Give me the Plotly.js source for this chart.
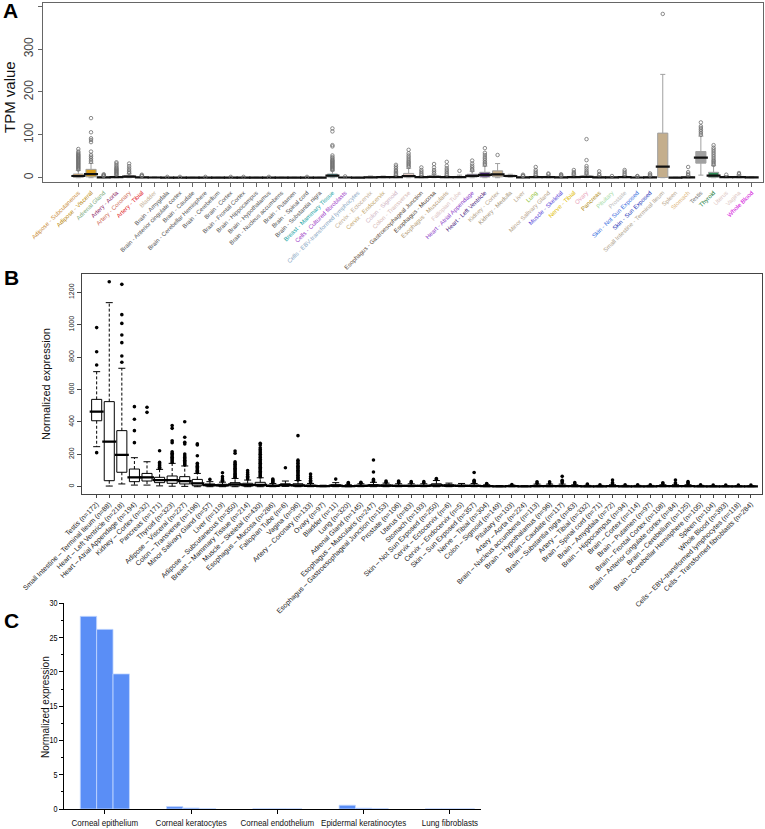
<!DOCTYPE html>
<html><head><meta charset="utf-8">
<script src="https://cdn.plot.ly/plotly-3.0.1.min.js"></script>
<style>html,body{margin:0;padding:0;background:#fff}#chart{width:765px;height:829px}</style>
</head><body><div id="chart"></div>
<script>
// ---------- Panel A : GTEx TPM ----------
const aTissues = ['Adipose - Subcutaneous','Adipose - Visceral','Adrenal Gland','Artery - Aorta','Artery - Coronary','Artery - Tibial','Bladder','Brain - Amygdala','Brain - Anterior cingulate cortex','Brain - Caudate','Brain - Cerebellar Hemisphere','Brain - Cerebellum','Brain - Cortex','Brain - Frontal Cortex','Brain - Hippocampus','Brain - Hypothalamus','Brain - Nucleus accumbens','Brain - Putamen','Brain - Spinal cord','Brain - Substantia nigra','Breast - Mammary Tissue','Cells - Cultured fibroblasts','Cells - EBV-transformed lymphocytes','Cervix - Ectocervix','Cervix - Endocervix','Colon - Sigmoid','Colon - Transverse','Esophagus - Gastroesophageal Junction','Esophagus - Mucosa','Esophagus - Muscularis','Fallopian Tube','Heart - Atrial Appendage','Heart - Left Ventricle','Kidney - Cortex','Kidney - Medulla','Liver','Lung','Minor Salivary Gland','Muscle - Skeletal','Nerve - Tibial','Ovary','Pancreas','Pituitary','Prostate','Skin - Not Sun Exposed','Skin - Sun Exposed','Small Intestine - Terminal Ileum','Spleen','Stomach','Testis','Thyroid','Uterus','Vagina','Whole Blood'];
const aLabelColors = ['#c98c3a','#b8860b','#7fae7f','#8b1c62','#cd6a55','#e0201e','#c8b49a','#555555','#555555','#555555','#555555','#555555','#555555','#555555','#555555','#555555','#555555','#555555','#555555','#555555','#1aa5a5','#a040c8','#8aa8c4','#bfae96','#c4a870','#cfb4c4','#d7b9b4','#5e4e3c','#4e4030','#b49a74','#dcc4c4','#8b40c8','#4b1f80','#b8a68e','#a89880','#b8a68e','#8cc030','#b8a68e','#5a48d8','#e0bc00','#e8a0b8','#b08a20','#a8dca8','#bcbcbc','#3a70e0','#2838b8','#b0a48e','#b8a68e','#e0b880','#777777','#1a7a3a','#dcc4c0','#dcc4c0','#d000d8'];
const aFillColors = ['#e0a050','#d9a020','#8fbc8f','#8b1c62','#ee6a50','#ff0000','#cdb79e','#bdbdbd','#bdbdbd','#bdbdbd','#bdbdbd','#bdbdbd','#bdbdbd','#bdbdbd','#bdbdbd','#bdbdbd','#bdbdbd','#bdbdbd','#bdbdbd','#bdbdbd','#2fb0b0','#b452cd','#9ac0cd','#cdb79e','#cdb79e','#d8c0c8','#e8cfc8','#8b7355','#8b7355','#cdaa7d','#eed5d2','#7b4fb0','#4a2378','#c8b08a','#cdb79e','#cdb79e','#9acd32','#cdb79e','#7a67ee','#ffd700','#ffb6c1','#cd9b1d','#b4eeb4','#d9d9d9','#3a5fcd','#1e90ff','#c4ae8c','#cdb79e','#ffd39b','#a0a0a0','#2e8b57','#eed5d2','#eed5d2','#ff00ff'];
const aQ1  = [1,2,0.3,0.5,1,0.3,0.2, 0.1,0.1,0.1,0.1,0.1,0.1,0.1,0.1,0.1,0.1,0.1,0.1,0.1, 1.5,0.2,0.1,0.5,0.5,0.5,1,0.5,1,0.5,0.5,1.5,1.5,2,2,0.3,0.5,0.5,0.3,0.5,1,0.3,0.2,0.5,0.2,0.3,0.5,0.1,0.3,34,1,0.5,0.5,0.2];
const aMed = [4,8.6,0.8,1.5,2.5,0.8,0.5, 0.3,0.3,0.3,0.3,0.3,0.3,0.3,0.3,0.3,0.3,0.3,0.3,0.3, 5,0.5,0.3,1,1.2,1.2,4,1.2,2,1.2,1.5,4.5,6.6,8,4,0.8,1.2,1.5,0.8,1.5,2,1,0.6,1.2,0.5,0.8,26,0.3,1,47,5,1.2,1.5,0.6];
const aQ3  = [8.6,19.5,1.5,3,5,1.5,1, 0.6,0.6,0.6,0.6,0.6,0.6,0.6,0.6,0.6,0.6,0.6,0.6,0.6, 8.6,1,0.6,2,2.2,2.5,10,2.5,4,2.5,3,8,12.6,16,6,1.5,2.5,3,1.5,3,4,2,1.2,2.5,1,1.5,104,0.6,2,61,12.6,2.5,3,1.2];
const aLow = [0,0,0,0,0,0,0, 0,0,0,0,0,0,0,0,0,0,0,0,0, 0,0,0,0,0,0,0,0,0,0,0,0,0,0,1,0,0,0,0,0,0,0,0,0,0,0,0,0,0,6,0,0,0,0];
const aHigh= [17,33.5,3,6,9,3,2, 1.2,1.2,1.2,1.2,1.2,1.2,1.2,1.2,1.2,1.2,1.2,1.2,1.2, 16,2,1.2,4,4,5,22,5,8,5,6,15,27,33,8,3,5,6,3,6,8,4,2.5,5,2,3,241,1.2,4,97,28,5,6,2.5];
const aOutliers = [
  [19,21,23,25,27,29,31,33,35,37,39,41,43,45,47,49,51,53,55,58,61,67],
  [37,41,45,49,53,61,83,88,92,106,139],
  [4,5,6,8],
  [7,9,11,13,15,17,19,21,23,26,29,33,36],
  [11,14,18,22,27,33],
  [4,5,7],
  [],
  [2],[2],[],[2],[],[2],[2],[],[2],[],[],[2],[],
  [18,20,22,24,26,28,30,32,34,36,38,40,42,45,48,52,73,76,108,115],
  [3],[],[],[],
  [7,9,12,15,18,22,26,30],
  [25,28,31,34,37,40,44,48,52,57,65],
  [7,10,14,18,24],
  [10,14,18,24,32],
  [7,10,14,18,22,28,37],
  [16],
  [17,20,24,28,33,40],
  [30,33,36,40,44,48,53,58,69],
  [53],
  [],
  [4,5,7],
  [7,10,14,18,25],
  [8,10],
  [4,6,8],
  [8,10,13,18],
  [10,13,17,22,27,41,90],
  [6,9,15],
  [4],
  [7,10,14,18],
  [3,4],
  [5,7,10],
  [382],
  [],
  [6,9,13,25],
  [100,104,108,112,116,120,129],
  [30,33,36,39,42,46,50,54,58,62,66,70,76],
  [7],
  [8,11],
  []
];
const aYTicks = [0,100,200,300,400];
const aYTickText = ['0','100','200','300',''];

// ---------- Panel B : normalized expression ----------
const bNames = ['Testis','Small Intestine – Terminal Ileum','Heart – Left Ventricle','Heart – Atrial Appendage','Kidney – Cortex','Pancreas','Thyroid','Adipose – Visceral','Colon – Transverse','Minor Salivary Gland','Liver','Adipose – Subcutaneous','Breast – Mammary Tissue','Muscle – Skeletal','Esophagus – Mucosa','Fallopian Tube','Vagina','Artery – Coronary','Ovary','Bladder','Lung','Adrenal Gland','Esophagus – Muscularis','Esophagus – Gastroesophageal Junction','Prostate','Uterus','Stomach','Skin – Not Sun Exposed','Cervix – Ectocervix','Cervix – Endocervix','Skin – Sun Exposed','Nerve – Tibial','Colon – Sigmoid','Pituitary','Artery – Aorta','Brain – Nucleus accumbens','Brain – Hypothalamus','Brain – Caudate','Brain – Substantia nigra','Artery – Tibial','Brain – Spinal cord','Brain – Amygdala','Brain – Hippocampus','Brain – Cortex','Brain – Putamen','Brain – Frontal Cortex','Brain – Anterior cingulate cortex','Brain – Cerebellum','Brain – Cerebellar Hemisphere','Spleen','Whole Blood','Cells – EBV–transformed lymphocytes','Cells – Transformed fibroblasts'];
const bCounts = [172,88,218,194,32,171,323,227,196,57,119,350,214,430,286,6,96,133,97,11,320,145,247,153,106,83,193,250,6,5,357,304,149,103,224,113,96,117,63,332,71,72,94,114,97,108,84,125,105,104,393,118,284];
const bQ1  = [407,37,89,31,35,25,21,17,6,5,4,5,4,4,2,5,3,2,1,2,1,2,3,3,2,2,2,3,2,2,2,1,1,1,1,1,1,1,1,1,1,1,1,1,1,1,1,1,1,0.5,0.5,0.5,0.5];
const bMed = [463,278,196,58,58,41,41,35,21,10,8,14,10,11,5,10,8,5,3,6,3,5,7,6,5,5,5,8,6,5,5,3,2,3,2,4,4,4,3,2,2,3,2,2,2,3,3,3,2,1.5,1.5,1.5,1.5];
const bQ3  = [539,525,346,109,82,58,66,62,45,17,15,25,21,27,10,18,18,10,5,12,6,9,13,11,9,9,9,18,12,10,10,6,4,5,3,8,8,8,6,4,4,6,4,4,4,6,6,6,4,3,3,3,3];
const bLow = [247,4,17,10,10,5,3,2,0,0,0,0,0,0,0,2,0,0,0,0,0,0,0,0,0,0,0,0,0,0,0,0,0,0,0,0,0,0,0,0,0,0,0,0,0,0,0,0,0,0,0,0,0];
const bHigh= [710,1136,731,179,154,107,144,128,82,31,28,51,41,55,20,35,38,20,9,25,12,18,27,22,18,18,18,38,22,20,20,12,7,10,6,16,16,16,12,8,8,12,8,8,8,12,12,12,8,6,6,6,6];
const bOutliers = [
  [210,751,833,982],[1265],[768,807,889,936,1008,1062,1249],[272,346,416,494],[459,490],
  [113,120,127,134,142,150,222],
  [150,158,166,174,182,190,198,206,216,272,284,360,377],
  [134,140,148,156,164,172,180,190,202,264,274,305,401],
  [88,95,102,110,118,126,134,144,191,257,264],
  [45],[34,40,48,62,86],
  [56,62,68,75,82,90,98,106,114,122,130,138,146,154,206,220],
  [48,56,65,75,86,99],
  [60,66,72,80,88,96,104,112,120,128,136,144,152,160,170,180,190,200,210,220,230,240,258,268],
  [25,30,36,41,47],[117],
  [42,48,55,62,70,78,86,94,102,110,118,126,134,144,154,164,315],
  [25,32,40,50,62,78],[],[47],[16,20,26],[22,27],[32,38,45,91,165],[28,35],[24,30,35],[24,31],[24,31],[44,51],[],[],
  [26,33,40,88],[16,20],[],[14],[],[22,30],[22,30],[24,32,40,64],[18,25],[12,16],[12],[18,25,41],[12],[12],[12],[18,24],[18,24,41],[18,25,31],[12],[10],[10],[10],[10]
];
const bYTicks = [0,200,400,600,800,1000,1200];

// ---------- Panel C : bar chart ----------
const cCells = ['Corneal epithelium','Corneal keratocytes','Corneal endothelium','Epidermal keratinocytes','Lung fibroblasts'];
const cRep1 = [28.1,0.35,0.03,0.55,0.02];
const cRep2 = [26.2,0.15,0.03,0.12,0.02];
const cRep3 = [19.7,0.05,0.02,0.05,0.02];
const cYTicks = [0,5,10,15,20,25,30];

// ---------- build ----------
const W = 765, H = 829;
const px = v => v / W, py = v => 1 - v / H;
const traces = [];

aTissues.forEach((t, i) => {
  traces.push({type:'box', xaxis:'x', yaxis:'y', x:[i], q1:[aQ1[i]], median:[aMed[i]], q3:[aQ3[i]],
    lowerfence:[aLow[i]], upperfence:[aHigh[i]], width:0.8, whiskerwidth:0.5,
    fillcolor:aFillColors[i], line:{color:'#a0a0a0', width:1}, hoverinfo:'skip', name:t});
});
traces.push({type:'scatter', mode:'markers', xaxis:'x', yaxis:'y', x:aTissues.map((t,i)=>i), y:aMed,
  marker:{symbol:'line-ew', size:10, line:{width:2.2, color:'#111'}}, hoverinfo:'skip'});
{
  const ox=[], oy=[];
  aOutliers.forEach((arr,i)=>arr.forEach(v=>{ox.push(i); oy.push(v);}));
  traces.push({type:'scatter', mode:'markers', xaxis:'x', yaxis:'y', x:ox, y:oy,
    marker:{symbol:'circle-open', size:3.5, color:'#6e6e6e', line:{width:0.8}}, hoverinfo:'skip'});
}

const bIdx = bNames.map((n,i)=>i);
{
  const wx=[], wy=[];
  bIdx.forEach(i=>{ wx.push(i,i,null,i,i,null); wy.push(bQ3[i],bHigh[i],null,bQ1[i],bLow[i],null); });
  traces.push({type:'scatter', mode:'lines', xaxis:'x2', yaxis:'y2', x:wx, y:wy,
    line:{color:'#000', width:1, dash:'3px,2px'}, hoverinfo:'skip'});
  traces.push({type:'scatter', mode:'markers', xaxis:'x2', yaxis:'y2', x:bIdx.concat(bIdx), y:bHigh.concat(bLow),
    marker:{symbol:'line-ew', size:5, line:{width:1, color:'#000'}}, hoverinfo:'skip'});
}
traces.push({type:'box', xaxis:'x2', yaxis:'y2', x:bIdx, q1:bQ1, median:bMed, q3:bQ3,
  lowerfence:bQ1, upperfence:bQ3, width:0.8, whiskerwidth:0,
  fillcolor:'#ffffff', line:{color:'#000', width:1}, hoverinfo:'skip'});
traces.push({type:'scatter', mode:'markers', xaxis:'x2', yaxis:'y2', x:bIdx, y:bMed,
  marker:{symbol:'line-ew', size:10, line:{width:2.2, color:'#000'}}, hoverinfo:'skip'});
{
  const ox=[], oy=[];
  bOutliers.forEach((arr,i)=>arr.forEach(v=>{ox.push(i); oy.push(v);}));
  traces.push({type:'scatter', mode:'markers', xaxis:'x2', yaxis:'y2', x:ox, y:oy,
    marker:{symbol:'circle', size:3.6, color:'#000'}, hoverinfo:'skip'});
}

[cRep1,cRep2,cRep3].forEach(rep=>{
  traces.push({type:'bar', xaxis:'x3', yaxis:'y3', x:cCells, y:rep,
    marker:{color:'#5a8ef6', line:{color:'#c4d8ff', width:0.8}}, hoverinfo:'skip'});
});

const ann = (text, x, y, size, extra) => Object.assign({text, x:px(x), y:py(y), xref:'paper', yref:'paper',
  xanchor:'center', yanchor:'middle', showarrow:false, font:{size, color:'#111'}}, extra || {});
const layout = {
  width:W, height:H, margin:{l:0,r:0,t:0,b:0}, showlegend:false,
  paper_bgcolor:'#fff', plot_bgcolor:'#fff', boxmode:'overlay', barmode:'group', bargap:0.43, bargroupgap:0,
  font:{family:'Liberation Sans, Arial, sans-serif', color:'#000'},
  xaxis:{domain:[px(43),px(763)], range:[-2.78,53.89], anchor:'y', showgrid:false, zeroline:false,
    showline:true, mirror:true, linecolor:'#666', linewidth:1, ticks:'outside', ticklen:4, tickcolor:'#666',
    tickmode:'array', tickvals:aTissues.map((t,i)=>i),
    ticktext:aTissues.map((t,i)=>`<span style="color:${aLabelColors[i]}">${t}</span>`),
    tickangle:-45, tickfont:{size:6}},
  yaxis:{domain:[py(182),py(3.3)], range:[-10,406.8], anchor:'x', showgrid:false, zeroline:false,
    showline:true, mirror:true, linecolor:'#666', linewidth:1, ticks:'outside', ticklen:4, tickcolor:'#666',
    tickmode:'array', tickvals:aYTicks, ticktext:aYTickText, tickangle:-90, tickfont:{size:12, color:'#444'}},
  xaxis2:{domain:[px(81.7),px(762)], range:[-1.19,52.88], anchor:'y2', showgrid:false, zeroline:false,
    showline:true, mirror:true, linecolor:'#444', linewidth:1, ticks:'outside', ticklen:3, tickcolor:'#444',
    tickmode:'array', tickvals:bIdx, ticktext:bNames.map((n,i)=>`${n} (n=${bCounts[i]})`),
    tickangle:-45, tickfont:{size:7, color:'#222'}},
  yaxis2:{domain:[py(493.5),py(274.3)], range:[-42,1311], anchor:'x2', showgrid:false, zeroline:false,
    showline:true, mirror:true, linecolor:'#444', linewidth:1, ticks:'outside', ticklen:4, tickcolor:'#444',
    tickmode:'array', tickvals:bYTicks, tickangle:-90, tickfont:{size:7, color:'#222'}},
  xaxis3:{domain:[px(64.3),px(481)], range:[-0.47,4.36], anchor:'y3', type:'category', showgrid:false, zeroline:false,
    showline:true, linecolor:'#000', linewidth:1.2, ticks:'outside', ticklen:4, tickcolor:'#000',
    tickangle:0, tickfont:{size:9.5, color:'#111'}},
  yaxis3:{domain:[py(809),py(603.3)], range:[0,30], anchor:'x3', showgrid:false, zeroline:false,
    showline:true, linecolor:'#000', linewidth:1.2, ticks:'outside', ticklen:4, tickcolor:'#000',
    tickmode:'array', tickvals:cYTicks, ticktext:cYTicks.map(String), showticklabels:true,
    tickfont:{size:8.5, color:'#000'},
    minor:{ticks:'outside', ticklen:2, tickvals:cYTicks.slice(0,-1).map(v=>v+2.5), tickcolor:'#000', showgrid:false}},
  annotations:[
    ann('<b>A</b>', 10, 11, 21, {font:{size:21, color:'#000'}}),
    ann('<b>B</b>', 11, 277, 21, {font:{size:21, color:'#000'}}),
    ann('<b>C</b>', 11, 620, 21, {font:{size:21, color:'#000'}}),
    ann('TPM value', 9, 97, 15, {textangle:-90}),
    ann('Normalized expression', 46, 384, 11, {textangle:-90}),
    ann('Normalized expression', 45, 707, 10, {textangle:-90})
  ]
};
Plotly.newPlot('chart', traces, layout, {displayModeBar:false, staticPlot:true}).then(gd => {
  // condense the panel C labels (narrow typeface look of the original)
  gd.querySelectorAll('g[class*="x3tick"] text, g[class*="y3tick"] text').forEach(t => {
    const len = t.getComputedTextLength();
    if (len > 0) { t.setAttribute('textLength', (len * 0.84).toFixed(1)); t.setAttribute('lengthAdjust', 'spacingAndGlyphs'); }
  });
});
</script>
</body></html>
